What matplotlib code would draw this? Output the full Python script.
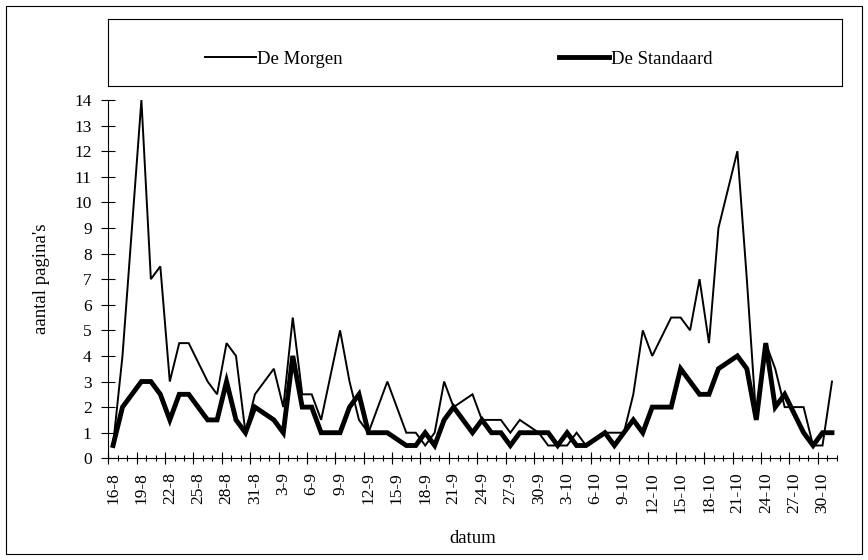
import numpy as np
import pandas as pd
import matplotlib
matplotlib.use("Agg")
import matplotlib.pyplot as plt
from matplotlib.patches import Rectangle

plt.rcParams["font.family"] = ["Liberation Serif", "DejaVu Serif"]

nan = np.nan

# one category per day, 16-8 .. 31-10 (Sundays have no value)
dates = [f"{d.day}-{d.month}" for d in pd.date_range("2002-08-16", "2002-10-31")]

de_morgen = [0.5, 4, nan, 14, 7, 7.5, 3, 4.5, 4.5, nan,
             3, 2.5, 4.5, 4, 1, 2.5, nan, 3.5, 2, 5.5,
             2.5, 2.5, 1.5, nan, 5, 3, 1.5, 1, 2, 3,
             nan, 1, 1, 0.5, 1, 3, 2, nan, 2.5, 1.5,
             1.5, 1.5, 1, 1.5, nan, 1, 0.5, 0.5, 0.5, 1,
             0.5, nan, 1, 1, 1, 2.5, 5, 4, nan, 5.5,
             5.5, 5, 7, 4.5, 9, nan, 12, 7, 1.5, 4.5,
             3.5, 2, nan, 2, 0.5, 0.5, 3]

de_standaard = [0.5, 2, nan, 3, 3, 2.5, 1.5, 2.5, 2.5, nan,
                1.5, 1.5, 3, 1.5, 1, 2, nan, 1.5, 1, 4,
                2, 2, 1, nan, 1, 2, 2.5, 1, 1, 1,
                nan, 0.5, 0.5, 1, 0.5, 1.5, 2, nan, 1, 1.5,
                1, 1, 0.5, 1, nan, 1, 1, 0.5, 1, 0.5,
                0.5, nan, 1, 0.5, 1, 1.5, 1, 2, nan, 2,
                3.5, 3, 2.5, 2.5, 3.5, nan, 4, 3.5, 1.5, 4.5,
                2, 2.5, nan, 1, 0.5, 1, 1]

series = [("De Morgen", de_morgen, 1.4), ("De Standaard", de_standaard, 3.5)]

W, H = 868, 560
fig = plt.figure(figsize=(W / 100, H / 100), dpi=100)

# outer chart border
fig.patches.append(Rectangle((6 / W, 6 / H), 856 / W, 548 / H, transform=fig.transFigure,
                             fill=False, edgecolor="black", linewidth=0.8))

ax = fig.add_axes([108.3 / W, (H - 458.3) / H, 728.4 / W, 358.3 / H])
x = np.arange(len(dates))
handles = []
for name, vals, lw in series:
    y = np.array(vals, dtype=float)
    m = ~np.isnan(y)  # skip missing days, line connects neighbours like Excel
    h, = ax.plot(x[m], y[m], color="black", linewidth=lw, label=name,
                 solid_joinstyle="miter")
    handles.append(h)

ax.set_xlim(-0.5, len(dates) - 0.5)
ax.set_ylim(0, 14)
ax.set_yticks(range(0, 15))
ax.tick_params(axis="y", direction="inout", length=10, width=0.8, pad=7, labelsize=12.5)

# labels every 3 days at the category centre, tick marks on category boundaries
ax.set_xticks(x[::3])
ax.set_xticklabels(dates[::3], rotation=90)
ax.tick_params(axis="x", which="major", length=0, pad=10, labelsize=12.5)
ax.set_xticks(np.arange(-0.5, len(dates), 1), minor=True)
ax.tick_params(axis="x", which="minor", direction="inout", length=5, width=0.8)
sec = ax.secondary_xaxis("bottom")
sec.set_xticks(np.arange(-0.5, len(dates), 3))
sec.set_xticklabels([])
sec.tick_params(direction="inout", length=8, width=0.8)
sec.spines["bottom"].set_visible(False)

for s in ["top", "right"]:
    ax.spines[s].set_visible(False)
for s in ["left", "bottom"]:
    ax.spines[s].set_linewidth(0.8)

ax.set_ylabel("aantal pagina's", fontsize=13.5)
ax.yaxis.set_label_coords(-0.08, 0.5)
ax.set_xlabel("datum", fontsize=13.5)
ax.xaxis.set_label_coords(0.5, -0.2)

# legend box above the plot
lax = fig.add_axes([108 / W, (H - 86) / H, 734 / W, 67 / H])
lax.set_xticks([])
lax.set_yticks([])
for s in lax.spines.values():
    s.set_linewidth(0.8)
lax.legend(handles, [h.get_label() for h in handles], ncol=2, loc="center left",
           bbox_to_anchor=(0.132, 0.4), borderaxespad=0, borderpad=0,
           frameon=False, fontsize=13.5,
           handlelength=2.7, handletextpad=0.1, columnspacing=11.5)

fig.savefig("out.png", dpi=100)
